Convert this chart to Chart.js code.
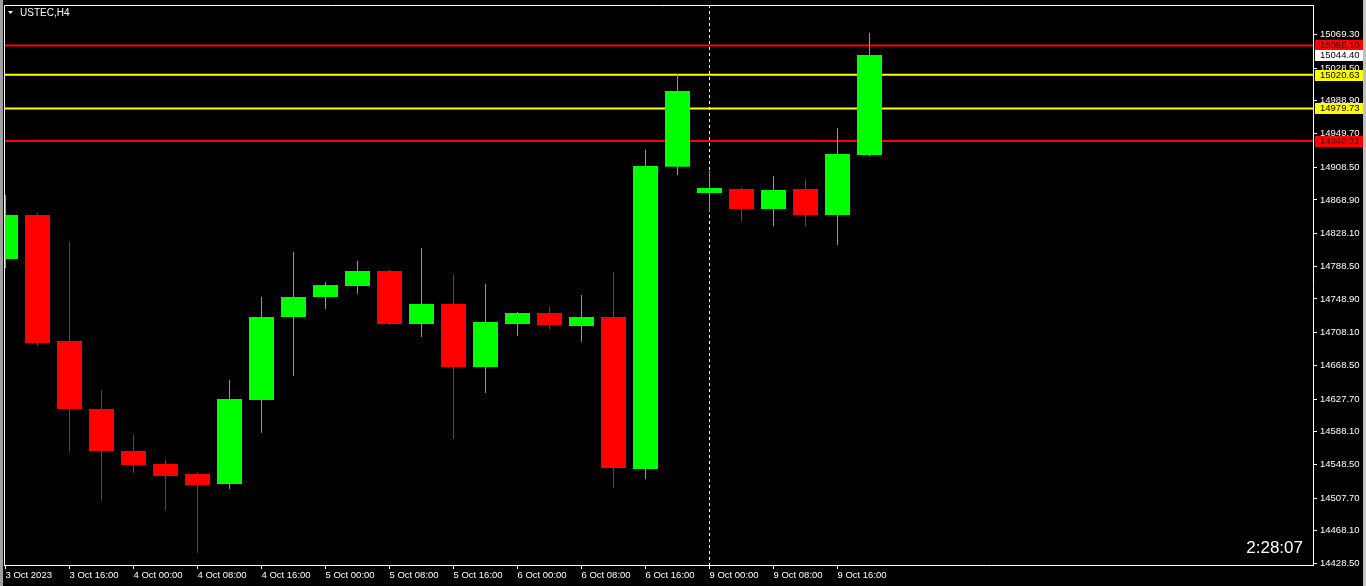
<!DOCTYPE html>
<html>
<head>
<meta charset="utf-8">
<title>USTEC,H4</title>
<script src="https://cdn.jsdelivr.net/npm/chart.js@4.4.0/dist/chart.umd.min.js"></script>
<style>
  html, body { margin: 0; padding: 0; background: #000; overflow: hidden; }
  canvas { display: block; }
</style>
</head>
<body>
<canvas id="graph" width="1366" height="586"></canvas>
<script>
// H4 candles, 3 Oct 08:00 -> 9 Oct 20:00
const opens  = [14797.3, 14850.6, 14698.0, 14615.6, 14564.8, 14549.0, 14536.9, 14524.8, 14626.5, 14727.1, 14751.3, 14764.6, 14782.8, 14718.6, 14742.8, 14666.5, 14718.6, 14731.9, 14716.2, 14727.1, 14542.9, 14909.2, 14877.3, 14882.1, 14857.9, 14882.1, 14850.6, 14923.3];
const highs  = [14874.9, 14852.7, 14817.9, 14638.6, 14584.1, 14553.8, 14539.3, 14650.8, 14751.3, 14805.8, 14769.5, 14794.9, 14784.0, 14810.7, 14778.0, 14767.1, 14733.1, 14739.2, 14753.7, 14781.6, 14929.4, 15021.4, 14903.9, 14883.3, 14897.9, 14893.0, 14956.0, 15071.1];
const lows   = [14786.4, 14691.1, 14563.9, 14504.5, 14538.5, 14492.4, 14441.5, 14518.7, 14586.9, 14656.0, 14736.8, 14754.9, 14717.4, 14702.9, 14579.3, 14635.0, 14704.1, 14712.5, 14696.8, 14519.9, 14530.8, 14899.1, 14854.3, 14843.4, 14837.3, 14836.1, 14814.3, 14922.1];
const closes = [14850.6, 14695.6, 14615.6, 14564.8, 14547.8, 14534.5, 14523.6, 14627.7, 14727.1, 14751.3, 14765.8, 14782.8, 14718.6, 14742.8, 14666.5, 14721.0, 14731.9, 14717.4, 14727.1, 14544.2, 14910.0, 15000.9, 14883.3, 14857.9, 14880.9, 14850.6, 14924.5, 15044.4];

// horizontal levels drawn on the chart
const levelPrices = [15056.10, 15020.63, 14979.73, 14940.31];
const levelColours = ['#ff0000', '#ffff00', '#ffff00', '#ff0000'];

// axis labels
const yTickLabels = ['15069.30', '15028.50', '14988.90', '14949.70', '14908.50', '14868.90', '14828.10', '14788.50', '14748.90', '14708.10', '14668.50', '14627.70', '14588.10', '14548.50', '14507.70', '14468.10', '14428.50'];
const xTickIdx = [0, 2, 4, 6, 8, 10, 12, 14, 16, 18, 20, 22, 24, 26];
const xTickLabels = ['3 Oct 2023', '3 Oct 16:00', '4 Oct 00:00', '4 Oct 08:00', '4 Oct 16:00', '5 Oct 00:00', '5 Oct 08:00', '5 Oct 16:00', '6 Oct 00:00', '6 Oct 08:00', '6 Oct 16:00', '9 Oct 00:00', '9 Oct 08:00', '9 Oct 16:00'];

const symbolTitle = 'USTEC,H4';
const timerText = '2:28:07';
const separatorIdx = 22; // 9 Oct 00:00

const UP = '#00ff00';
const DOWN = '#ff0000';
const FONT = "'Liberation Sans', Tahoma, sans-serif";

// visible ranges
const xMin = -0.046875, xMax = 40.859375;
const yMin = 14426.65, yMax = 15105.04;

const colours = closes.map((c, i) => c >= opens[i] ? UP : DOWN);
const wicks = lows.map((l, i) => ({ x: i, y: [l, highs[i]] }));
const bodies = opens.map((o, i) => ({ x: i, y: [o, closes[i]] }));

const levelSets = levelPrices.map((p, i) => ({
  type: 'line',
  data: [{ x: xMin, y: p }, { x: xMax, y: p }],
  borderColor: levelColours[i],
  borderWidth: 2,
  pointRadius: 0,
  clip: 0,
  order: 5
}));

const mt4Plugin = {
  id: 'mt4',
  beforeDraw(chart) {
    const c = chart.ctx;
    c.save();
    c.fillStyle = '#000';
    c.fillRect(0, 0, chart.width, chart.height);
    c.fillStyle = '#a0a0a0';
    c.fillRect(0, 0, 3, chart.height);
    c.fillStyle = '#c0c0c0';
    c.fillRect(chart.width - 3, 0, 3, chart.height);
    c.restore();
  },
  beforeDatasetsDraw(chart) {
    const c = chart.ctx, a = chart.chartArea;
    const x = Math.round(chart.scales.x.getPixelForValue(separatorIdx)) - 0.5;
    c.save();
    c.strokeStyle = '#ffffff';
    c.lineWidth = 1;
    c.setLineDash([3, 3]);
    c.beginPath();
    c.moveTo(x, a.top);
    c.lineTo(x, a.bottom);
    c.stroke();
    c.restore();
  },
  afterDraw(chart) {
    const c = chart.ctx, a = chart.chartArea, ys = chart.scales.y;
    c.save();
    // frame top/left
    c.strokeStyle = '#ffffff';
    c.lineWidth = 1;
    c.beginPath();
    c.moveTo(a.left + 0.5, a.bottom);
    c.lineTo(a.left + 0.5, a.top + 0.5);
    c.lineTo(a.right, a.top + 0.5);
    c.stroke();

    // price boxes on the right scale
    const boxes = levelPrices.map((p, i) => ({ p: p, bg: levelColours[i], fg: '#000' }));
    boxes.push({ p: closes[closes.length - 1], bg: '#ffffff', fg: '#000' });
    c.font = '9.5px ' + FONT;
    c.textBaseline = 'middle';
    c.textAlign = 'left';
    boxes.forEach(b => {
      const y = Math.round(ys.getPixelForValue(b.p));
      c.fillStyle = b.bg;
      c.fillRect(a.right + 2, y - 5, 48, 11);
      c.fillStyle = b.bg === '#ff0000' ? '#3a0000' : b.fg;
      c.fillText(b.p.toFixed(2), a.right + 7, y + 0.5);
    });

    // symbol title
    c.fillStyle = '#ffffff';
    c.beginPath();
    c.moveTo(8, 11);
    c.lineTo(13, 11);
    c.lineTo(10.5, 14);
    c.closePath();
    c.fill();
    c.font = '10px ' + FONT;
    c.fillText(symbolTitle, 20, 13);

    // candle timer
    c.font = '17px ' + FONT;
    c.textAlign = 'right';
    c.textBaseline = 'alphabetic';
    c.fillText(timerText, a.right - 10, 553);
    c.restore();
  }
};

const ctx = document.getElementById('graph').getContext('2d');
new Chart(ctx, {
  type: 'bar',
  data: {
    datasets: [
      {
        data: bodies,
        backgroundColor: colours,
        barThickness: 25,
        grouped: false,
        inflateAmount: 0,
        borderWidth: 0,
        clip: 0,
        order: 1
      },
      {
        data: wicks,
        backgroundColor: colours,
        barThickness: 1,
        grouped: false,
        inflateAmount: 0,
        borderWidth: 0,
        clip: 0,
        order: 2
      },
      ...levelSets
    ]
  },
  options: {
    responsive: false,
    animation: false,
    devicePixelRatio: 1,
    layout: { padding: { left: 4, top: 5, right: 3, bottom: 0 } },
    plugins: { legend: { display: false }, tooltip: { enabled: false } },
    events: [],
    scales: {
      x: {
        type: 'linear',
        min: xMin,
        max: xMax,
        offset: false,
        afterBuildTicks: s => { s.ticks = xTickIdx.map(v => ({ value: v })); },
        afterFit: s => { s.height = 21; s.paddingLeft = 0; s.paddingRight = 0; },
        grid: { drawOnChartArea: false, drawTicks: true, tickLength: 4, color: '#ffffff', offset: false },
        border: { display: true, color: '#ffffff' },
        ticks: {
          autoSkip: false,
          maxRotation: 0,
          align: 'start',
          padding: 1,
          color: '#ffffff',
          font: { family: FONT, size: 9.5 },
          callback: (v, i) => xTickLabels[i]
        }
      },
      y: {
        type: 'linear',
        position: 'right',
        min: yMin,
        max: yMax,
        afterBuildTicks: s => { s.ticks = yTickLabels.map(v => ({ value: parseFloat(v) })); },
        afterFit: s => { s.width = 50; s.paddingTop = 0; s.paddingBottom = 0; },
        grid: { drawOnChartArea: false, drawTicks: true, tickLength: 4, color: '#ffffff' },
        border: { display: true, color: '#ffffff' },
        ticks: {
          autoSkip: false,
          padding: 3,
          color: '#ffffff',
          font: { family: FONT, size: 9.5 },
          callback: (v, i) => yTickLabels[i]
        }
      }
    }
  },
  plugins: [mt4Plugin]
});
</script>
</body>
</html>
